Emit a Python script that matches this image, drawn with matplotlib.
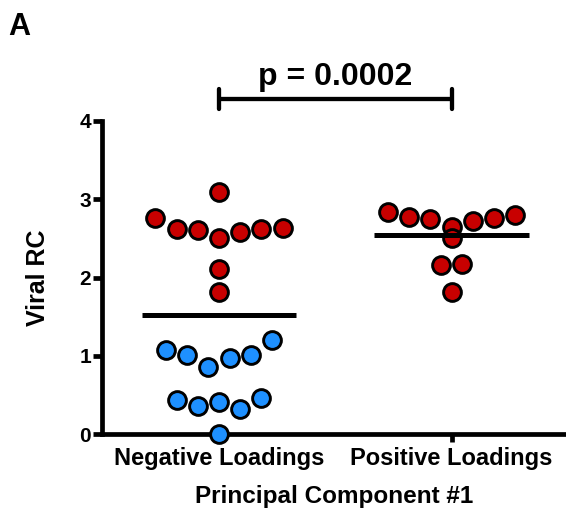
"""
Viral RC by sign of loading on principal component #1 (panel A).
    python3 plot.py
Writes out.png.
"""

import matplotlib
matplotlib.use("Agg")
import matplotlib.pyplot as plt
import numpy as np

plt.rcParams["font.family"] = ["Liberation Sans", "DejaVu Sans"]
plt.rcParams["font.weight"] = "bold"

# values (in data order)
categories = ["Negative Loadings", "Positive Loadings"]
neg_red = [3.09, 2.76, 2.62, 2.61, 2.51, 2.58, 2.62, 2.63, 2.11, 1.81]
neg_blue = [1.07, 1.01, 0.86, 0.97, 1.01, 1.20, 0.44, 0.36, 0.41, 0.32, 0.46, 0.00]
pos_red = [2.84, 2.77, 2.75, 2.64, 2.72, 2.76, 2.80, 2.50, 2.16, 2.17, 1.81]
p_text = "p = 0.0002"
yticks = [0, 1, 2, 3, 4]

RED = "#C80000"
BLUE = "#1E90FF"
MS = 12.8      # marker size, pt
MEW = 2.1      # marker edge, pt
LW = 3.4       # axis line width
ROW_GAP = 0.135  # values closer than this share a row


def row_offsets(vals, d):
    """Prism-style scatter: near-equal values share a row, spread in data order."""
    vals = np.asarray(vals)
    order = np.argsort(vals, kind="stable")
    rows, cur = [], [order[0]]
    for a, b in zip(order[:-1], order[1:]):
        if vals[b] - vals[a] > ROW_GAP:
            rows.append(cur)
            cur = []
        cur.append(b)
    rows.append(cur)
    offs = np.zeros(len(vals))
    for r in rows:
        r = sorted(r)
        for k, i in enumerate(r):
            offs[i] = (k - (len(r) - 1) / 2) * d
    return offs


def main():
    fig = plt.figure(figsize=(5.66, 5.12), dpi=100)
    ax = fig.add_axes([102 / 566, 1 - 434 / 512, 464 / 566, 313 / 512])
    ax.set_xlim(-0.503, 1.492)
    ax.set_ylim(0, 4)

    # pixel width of one category step, for spacing the dots
    sx = ax.transData.transform((1, 0))[0] - ax.transData.transform((0, 0))[0]
    d = (MS + MEW) * 100 / 72 + 0.5

    groups = [
        (0, neg_red + neg_blue, [RED] * len(neg_red) + [BLUE] * len(neg_blue)),
        (1, pos_red, [RED] * len(pos_red)),
    ]
    for xc, vals, cols in groups:
        vals = np.asarray(vals)
        offs = row_offsets(vals, d) / sx
        for v, o, c in zip(vals, offs, cols):
            ax.plot(xc + o, v, "o", ms=MS, mfc=c, mec="black", mew=MEW,
                    clip_on=False, zorder=4)
        ax.hlines(vals.mean(), xc - 0.333, xc + 0.333, color="black",
                  lw=3.6, zorder=5)

    # significance bracket
    yb = 4.28
    ax.plot([0, 1], [yb, yb], color="black", lw=3.1, clip_on=False,
            solid_capstyle="butt")
    for xc in (0, 1):
        ax.plot([xc, xc], [yb - 0.125, yb + 0.125], color="black", lw=3.1,
                clip_on=False, solid_capstyle="round")
    ax.text(0.5, 4.46, p_text, ha="center", va="baseline", fontsize=23,
            fontweight="bold")

    for s in ("top", "right"):
        ax.spines[s].set_visible(False)
    for s in ("left", "bottom"):
        ax.spines[s].set_linewidth(LW)
    ax.set_xticks([0, 1])
    ax.set_xticklabels(categories)
    ax.set_yticks(yticks)
    ax.tick_params(axis="x", length=6, width=LW, pad=3.5, labelsize=17)
    ax.tick_params(axis="y", length=6.5, width=LW, pad=1.5, labelsize=15)
    ax.set_ylabel("Viral RC", fontsize=18, fontweight="bold", labelpad=21)
    ax.set_xlabel("Principal Component #1", fontsize=17.5, fontweight="bold",
                  labelpad=11)

    fig.text(8 / 566, 1 - 35 / 512, "A", fontsize=22, fontweight="bold",
             va="baseline", ha="left")

    fig.savefig("out.png", dpi=100)


if __name__ == "__main__":
    main()
